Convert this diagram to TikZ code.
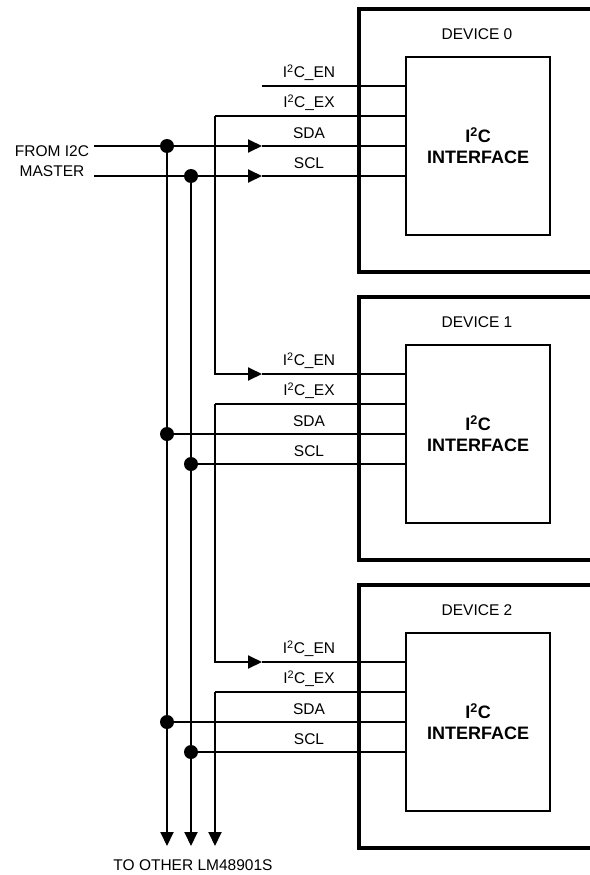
\documentclass[tikz,border=0pt]{standalone}
\usepackage{fontspec}
\setmainfont{Liberation Sans}
\usetikzlibrary{arrows.meta,positioning}

\begin{document}
\begin{tikzpicture}[
    x=1pt, y=-1pt,
    sig/.style={line width=1.9pt},
    devframe/.style={line width=3.6pt},
    iface/.style={draw, line width=2pt, minimum width=144pt, minimum height=178pt,
      align=center, inner sep=0pt, font=\fontsize{18}{21}\selectfont\bfseries},
    lbl/.style={font=\fontsize{15.5}{20}\selectfont, inner sep=0pt},
    tip/.style={-{Triangle[length=14pt,width=13pt]}},
    dot/.style={circle, fill, inner sep=0pt, minimum size=14pt}
  ]
    \useasboundingbox (0,0) rectangle (589,875);

    % device frames, interfaces and labels
    \foreach \i in {0,1,2} {
      \pgfmathsetmacro{\oy}{288*\i}
      \draw[devframe] (591,9+\oy) -| (359,272+\oy) -- (591,272+\oy);
      \node[lbl] (dev\i) at (477,34+\oy) {DEVICE \i};
      \node[iface] (if\i) at (478,146+\oy) {I\textsuperscript{2}C\\INTERFACE};
      \node[lbl] (enl\i) at (309,73+\oy) {I\textsuperscript{2}C\_EN};
      \node[lbl] (exl\i) at (309,103+\oy) {I\textsuperscript{2}C\_EX};
      \node[lbl] (sdal\i) at (309,133+\oy) {SDA};
      \node[lbl] (scll\i) at (309,163+\oy) {SCL};
      \coordinate (ena\i) at (262,86+\oy);
      \coordinate (exc\i) at (215,116+\oy);
      \coordinate (sdaj\i) at (167,146+\oy);
      \coordinate (sclj\i) at (191,176+\oy);
      \draw[sig] (ena\i) -- (ena\i -| if\i.west);
      \draw[sig] (exc\i) -- (exc\i -| if\i.west);
    }

    % master inputs
    \node[lbl, align=center] (master) at (52,161) {FROM I2C\\MASTER};
    \coordinate (sdain) at (94,146);
    \coordinate (sclin) at (94,176);
    \coordinate (sdaa0) at (262,146);
    \coordinate (scla0) at (262,176);
    \draw[sig, tip] (sdain) -- (sdaa0);
    \draw[sig, tip] (sclin) -- (scla0);
    \draw[sig] (sdaa0) -- (sdaa0 -| if0.west);
    \draw[sig] (scla0) -- (scla0 -| if0.west);

    % SDA / SCL to the other devices
    \foreach \i in {1,2} {
      \draw[sig] (sdaj\i) -- (sdaj\i -| if\i.west);
      \draw[sig] (sclj\i) -- (sclj\i -| if\i.west);
    }

    % enable chain
    \foreach \i/\j in {0/1,1/2}
      \draw[sig, tip] (exc\i) |- (ena\j);

    % buses down to the other parts
    \coordinate (sdaend) at (167,846);
    \coordinate (sclend) at (191,846);
    \coordinate (exend) at (215,846);
    \draw[sig, tip] (sdaj0) -- (sdaend);
    \draw[sig, tip] (sclj0) -- (sclend);
    \draw[sig, tip] (exc2) -- (exend);
    \node[lbl] (other) at (193,865) {TO OTHER LM48901S};

    \foreach \i in {0,1,2} {
      \node[dot] at (sdaj\i) {};
      \node[dot] at (sclj\i) {};
    }
  \end{tikzpicture}
\end{document}
